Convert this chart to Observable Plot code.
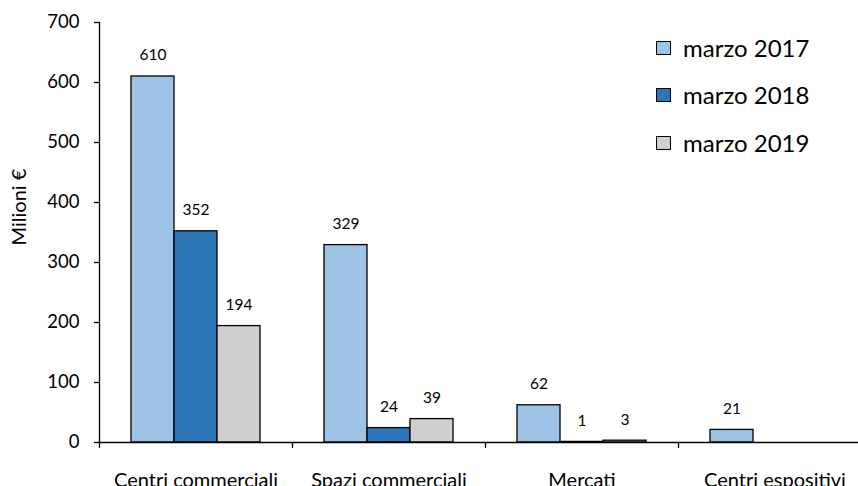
<!DOCTYPE html>
<html><head><meta charset="utf-8">
<script src="https://cdn.jsdelivr.net/npm/d3@7"></script>
<script src="https://cdn.jsdelivr.net/npm/@observablehq/plot@0.6"></script>
<style>
body{margin:0;background:#fff;}
#wrap{position:relative;width:858px;height:486px;overflow:hidden;font-family:Lato,sans-serif;color:#000;}
#legend{position:absolute;left:656px;top:24px;}
.row{display:flex;align-items:center;height:47.5px;}
.sw{width:13px;height:12px;border:1.3px solid #000;}
.lt{margin-left:12px;font-size:24px;line-height:1;}
#ylab{position:absolute;left:18px;top:207px;transform:translate(-50%,-50%) rotate(-90deg);font-size:20px;white-space:nowrap;}
</style></head>
<body><div id="wrap"><div id="ylab"></div><div id="legend"></div></div>
<script>
const categories = ["Centri commerciali", "Spazi commerciali", "Mercati", "Centri espositivi"];
const series = ["marzo 2017", "marzo 2018", "marzo 2019"];
const values2017 = [610, 329, 62, 21];
const values2018 = [352, 24, 1, null];
const values2019 = [194, 39, 3, null];
const seriesColors = ["#9DC3E6", "#2E75B6", "#D0CECE"];
const yTicks = [0, 100, 200, 300, 400, 500, 600, 700];
const yLabel = "Milioni €";

const valuesBySeries = [values2017, values2018, values2019];
const rows = [];
categories.forEach((c, i) => series.forEach((s, j) => {
  const v = valuesBySeries[j][i];
  if (v != null) rows.push({category: c, series: s, value: v});
}));

const chart = Plot.plot({
  width: 858, height: 486,
  marginLeft: 99, marginRight: -13, marginTop: 22, marginBottom: 44,
  style: {fontFamily: "Lato, sans-serif", color: "black", background: "white"},
  fx: {domain: categories, padding: 0, axis: null},
  x: {domain: series, paddingInner: 0, paddingOuter: 0.72, axis: null},
  y: {domain: [0, 700], axis: null},
  color: {domain: series, range: seriesColors},
  marks: [
    Plot.barY(rows, {fx: "category", x: "series", y: "value", fill: "series", stroke: "black", strokeWidth: 1.3}),
    Plot.text(rows, {fx: "category", x: "series", y: "value", text: d => String(d.value), dy: -21, fontSize: 15.5, fill: "black"}),
    Plot.ruleY([0], {stroke: "black", strokeWidth: 1.3}),
    Plot.frame({anchor: "left", facet: "super", stroke: "black", strokeWidth: 1.3}),
    Plot.axisY({ticks: yTicks, tickSize: 5, tickPadding: 15, fontSize: 18.5, label: null, tickFormat: d => String(d), strokeWidth: 1.3}),
    Plot.axisFx({anchor: "bottom", tickSize: 0, tickPadding: 30, fontSize: 20, label: null}),
    Plot.axisFx({anchor: "bottom", tickSize: 6, tickFormat: () => "", dx: -96.5, label: null, strokeWidth: 1.3})
  ]
});
const wrap = document.getElementById("wrap");
wrap.insertBefore(chart, wrap.firstChild);
document.getElementById("ylab").textContent = yLabel;
const legend = document.getElementById("legend");
series.forEach((s, j) => {
  const row = document.createElement("div");
  row.className = "row";
  const sw = document.createElement("div");
  sw.className = "sw";
  sw.style.background = seriesColors[j];
  const lt = document.createElement("span");
  lt.className = "lt";
  lt.textContent = s;
  row.append(sw, lt);
  legend.append(row);
});
</script></body></html>
